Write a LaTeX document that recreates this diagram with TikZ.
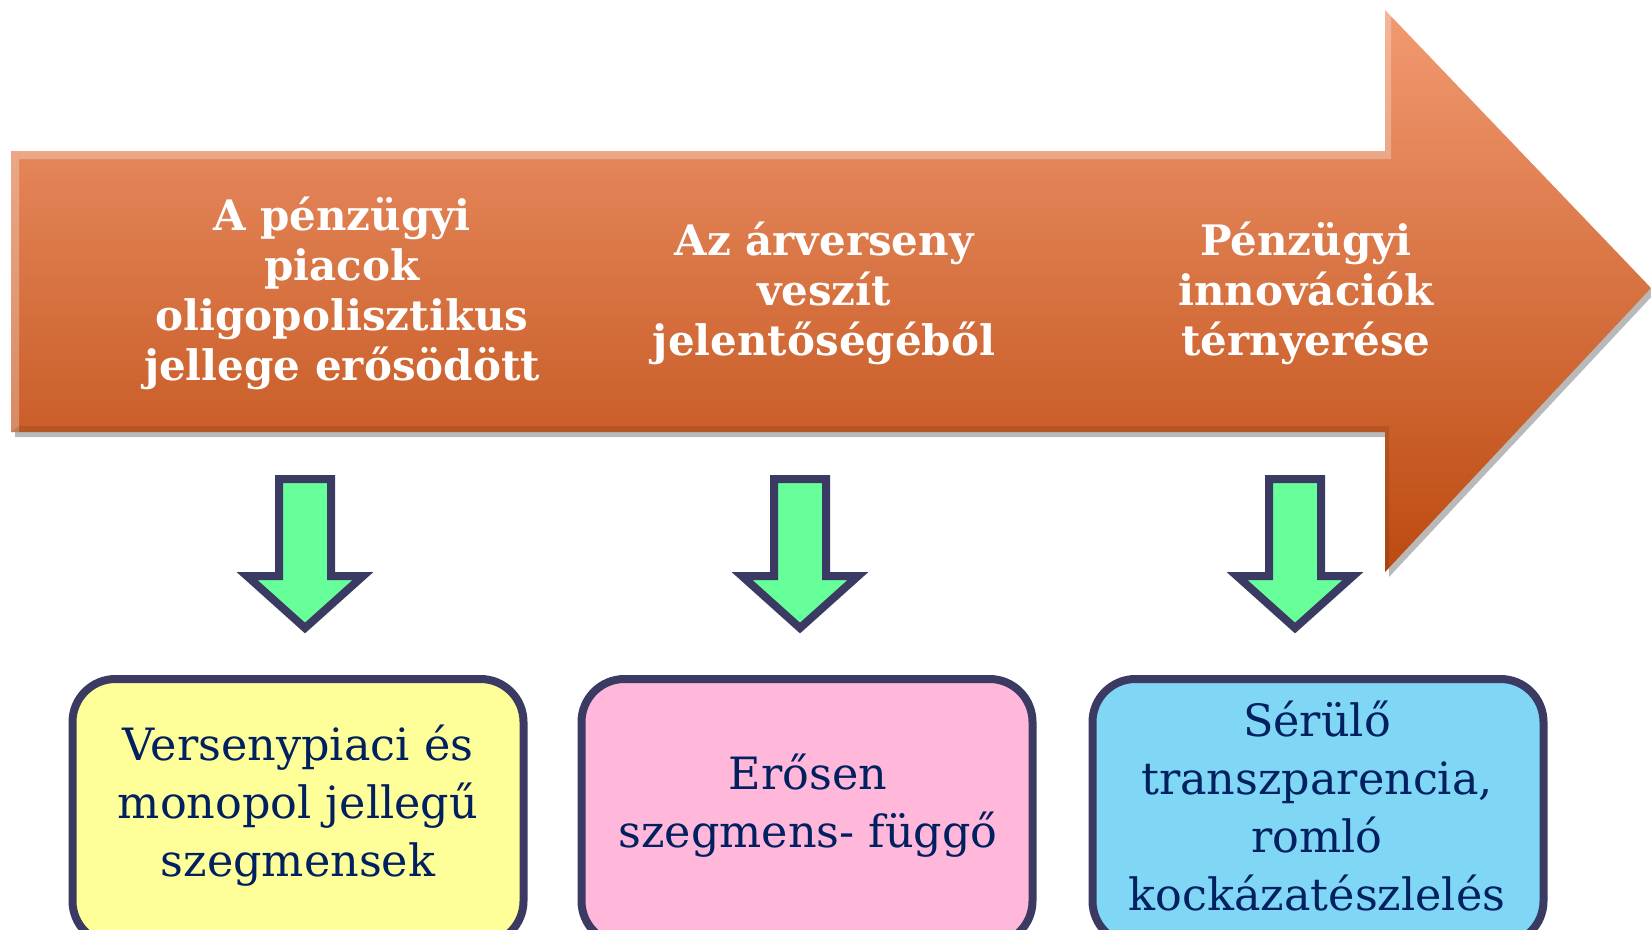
\documentclass[tikz,border=0pt]{standalone}
\usepackage{fontspec}
\setmainfont{DejaVu Serif}
\usetikzlibrary{shadows}
\definecolor{arrtop}{HTML}{F29A72}
\definecolor{arrbot}{HTML}{BC4A10}
\definecolor{navy}{HTML}{3B3A62}
\definecolor{txtblue}{HTML}{002060}
\definecolor{dgreen}{HTML}{66FF99}
\definecolor{byellow}{HTML}{FFFF99}
\definecolor{bpink}{HTML}{FFB8DA}
\definecolor{bblue}{HTML}{80D6F5}
\tikzset{
  toptext/.style={text=white, font=\bfseries\fontsize{42}{50}\selectfont, align=center, inner sep=0pt},
  boxtext/.style={text=txtblue, font=\fontsize{44.5}{58}\selectfont, align=center, inner sep=0pt},
  downarrow/.style={draw=navy, line width=8pt, fill=dgreen, line join=miter},
  resultbox/.style={draw=navy, line width=8pt, rounded corners=43pt, minimum width=451pt, minimum height=265pt, anchor=north, inner sep=0pt},
}
\begin{document}
\begin{tikzpicture}[x=1pt,y=-1pt]
\useasboundingbox (0,0) rectangle (1651,929);
\begin{scope}
\clip (0,0) rectangle (1651,929);
% big arrow shadow
\fill[gray!55] (15,156) -- (1389,156) -- (1389,15) -- (1655,293) -- (1389,577) -- (1389,437) -- (15,437) -- cycle;
% big arrow
\shade[top color=arrtop, bottom color=arrbot]
  (11,151) -- (1385,151) -- (1385,10) -- (1651,288) -- (1385,572) -- (1385,432) -- (11,432) -- cycle;
% bevel highlights
\fill[white, opacity=0.28] (11,151) -- (1385,151) -- (1385,10) -- (1391,16) -- (1391,159) -- (19,159) -- (19,432) -- (11,432) -- cycle;
\fill[black, opacity=0.10] (11,432) -- (1385,432) -- (1385,572) -- (1389,568) -- (1389,426) -- (19,426) -- cycle;

% arrow texts
\node[toptext] (a1) at (342,293) {A pénzügyi\\piacok\\oligopolisztikus\\jellege erősödött};
\node[toptext] (a2) at (824,293) {Az árverseny\\veszít\\jelentőségéből};
\node[toptext] (a3) at (1306,293) {Pénzügyi\\innovációk\\térnyerése};

% down arrows
\foreach \cx/\nm in {305/d1, 800/d2, 1295/d3}{
  \draw[downarrow] (\cx-26,479) -- (\cx+26,479) -- (\cx+26,576) -- (\cx+58,576) -- (\cx,628) -- (\cx-58,576) -- (\cx-26,576) -- cycle;
  \coordinate (\nm) at (\cx,555);
}

% result boxes
\node[resultbox, fill=byellow] (b1) at (298,675) {};
\node[resultbox, fill=bpink] (b2) at (807,675) {};
\node[resultbox, fill=bblue] (b3) at (1318,675) {};

\node[boxtext] (t1) at (298,806) {Versenypiaci és\\monopol jellegű\\szegmensek};
\node[boxtext] (t2) at (808,806) {Erősen\\szegmens- függő};
\node[boxtext] (t3) at (1317,806) {Sérülő\\transzparencia,\\romló\\kockázatészlelés};
\end{scope}
\end{tikzpicture}
\end{document}
